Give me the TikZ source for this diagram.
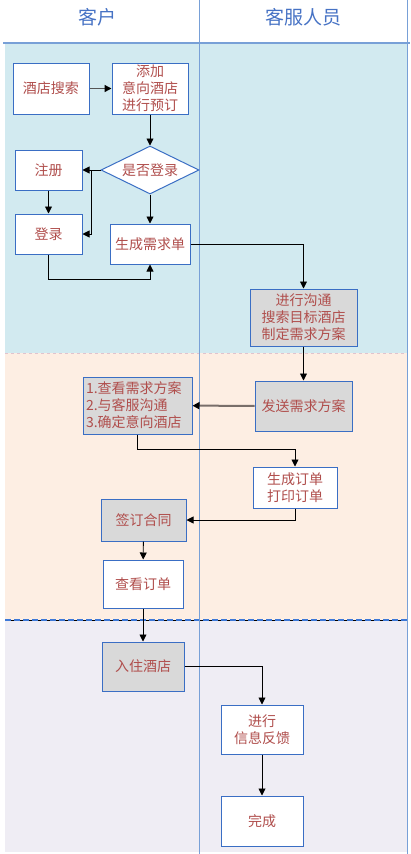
\documentclass[tikz,border=0pt]{standalone}
\usepackage{fontspec}
\newfontfamily\cjk{Noto Sans CJK SC}
\usetikzlibrary{positioning,shapes.geometric,arrows.meta,calc}
\definecolor{bandblue}{RGB}{210,234,240}
\definecolor{bandpeach}{RGB}{253,238,227}
\definecolor{bandlav}{RGB}{239,237,244}
\definecolor{boxgrey}{RGB}{217,217,217}
\definecolor{boxblue}{RGB}{58,110,196}
\definecolor{txtred}{RGB}{176,78,76}
\definecolor{headblue}{RGB}{70,114,196}
\definecolor{divider}{RGB}{120,160,215}
\definecolor{pinkline}{RGB}{225,195,205}
\definecolor{dashblue}{RGB}{60,120,215}
\definecolor{arrowgrey}{RGB}{85,85,85}
\definecolor{brownline}{RGB}{120,110,106}
\begin{document}
\begin{tikzpicture}[x=1pt,y=-1pt]
                    \tikzstyle{every node}=[font=\cjk\fontsize{14}{17}\selectfont,text=txtred]
                    \tikzstyle{box}=[rectangle,draw=boxblue,fill=white,line width=1,inner sep=0,align=center]
                    \tikzstyle{greybox}=[box,fill=boxgrey]
                    \tikzstyle{choice}=[diamond,draw=boxblue,fill=white,line width=1,inner sep=0,aspect=2]
                    \tikzstyle{lane}=[font=\cjk\fontsize{19}{21}\selectfont,text=headblue]
                    \tikzstyle{flow}=[-{Triangle[length=7pt,width=7pt,color=black]},line width=0.9]
                    {
                        \useasboundingbox (0,0) rectangle (410,854);
                        % swim lanes
                        \fill[bandblue] (5,43) rectangle (407,353);
                        \fill[bandpeach] (5,353) rectangle (407,620);
                        \fill[bandlav] (5,620) rectangle (407,852);
                        \draw[pinkline,dashed,line width=0.8] (5,353) -- (407,353);
                        \draw[black,line width=0.6] (5,620) -- (407,620);
                        \draw[dashblue,line width=2.2,dash pattern=on 6pt off 3pt] (5,620) -- (407,620);
                        \draw[divider,line width=1.2] (3,43) -- (410,43);
                        \draw[divider,line width=1] (199.5,0) -- (199.5,854);
                        \draw[divider,line width=1] (407.5,0) -- (407.5,854);

                        \node[lane] (khead) at (97,17) {客户};
                        \node[lane] (fhead) at (303,17) {客服人员};

                        % customer steps
                        \node[box,minimum width=76,minimum height=51] (search) at (51,88.5) {酒店搜索};
                        \node[box,minimum width=76,minimum height=51] (add) at (150,88.5) {添加\\意向酒店\\进行预订};
                        \node[choice,minimum width=98,minimum height=48] (login) at (150,170) {是否登录};
                        \node[box,minimum width=67,minimum height=40] (reg) at (48.5,170) {注册};
                        \node[box,minimum width=67,minimum height=40] (signin) at (48.5,234) {登录};
                        \node[box,minimum width=80,minimum height=40] (demand) at (150,244) {生成需求单};

                        % service steps
                        \node[greybox,minimum width=107,minimum height=57] (talk) at (303.5,317.5) {进行沟通\\搜索目标酒店\\制定需求方案};
                        \node[greybox,minimum width=97,minimum height=50] (send) at (303.5,406) {发送需求方案};
                        \node[greybox,minimum width=109,minimum height=57,text width=103,align=left] (check) at (137.5,405.5) {1.查看需求方案\\2.与客服沟通\\3.确定意向酒店};
                        \node[box,minimum width=84,minimum height=41] (order) at (295,487.5) {生成订单\\打印订单};
                        \node[greybox,minimum width=85,minimum height=42] (sign) at (143.5,520) {签订合同};
                        \node[box,minimum width=80,minimum height=48] (view) at (143,584) {查看订单};
                        \node[greybox,minimum width=82,minimum height=49] (stay) at (143,666.5) {入住酒店};
                        \node[box,minimum width=82,minimum height=49] (feedback) at (262,729.5) {进行\\信息反馈};
                        \node[box,minimum width=82,minimum height=50] (done) at (262,821) {完成};

                        \draw[flow,draw=arrowgrey,line width=1.4] (search) -- (add);
                        \draw[flow] (add) -- (login);
                        \draw[flow] (login) -- (reg);
                        \draw[flow] (login.west) -- ++(-9,0) |- (signin);
                        \draw[flow] (reg) -- (signin);
                        \draw[flow] (login) -- (demand);
                        \draw[flow] (signin.south) -- ++(0,25) -| (demand.south);
                        \draw[flow] (demand) -| (talk);
                        \draw[flow] (talk) -- (send);
                        \draw[flow,draw=brownline,line width=2] (send) -- (check);
                        \draw[flow] (check.south) -- ++(0,15) -| (order.north);
                        \draw[flow] (order.south) |- (sign);
                        \draw[flow] (sign) -- (view);
                        \draw[flow] (view) -- (stay);
                        \draw[flow] (stay) -| (feedback);
                        \draw[flow] (feedback) -- (done);
                    }
\end{tikzpicture}
\end{document}
